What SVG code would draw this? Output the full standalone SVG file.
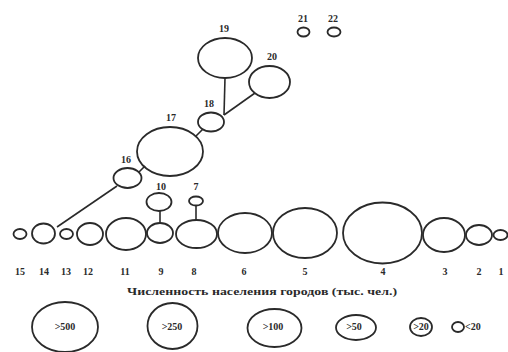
<svg xmlns="http://www.w3.org/2000/svg" width="508" height="352" viewBox="0 0 508 352">
<style>
.c{fill:none;stroke:#2a2a2a;stroke-width:1.8}
.l{stroke:#2a2a2a;stroke-width:1.6;fill:none}
.t{font-family:"Liberation Serif",serif;font-weight:bold;font-size:10px;fill:#2a2a2a;text-anchor:middle}
.s{font-family:"Liberation Serif",serif;font-weight:bold;font-size:10px;fill:#2a2a2a;text-anchor:middle}
.cap{font-family:"Liberation Serif",serif;font-weight:bold;font-size:10px;fill:#2a2a2a;text-anchor:middle}
</style>
<rect width="508" height="352" fill="#fff"/>
<g id="connectors">
<line class="l" x1="57" y1="227" x2="117" y2="186"/>
<line class="l" x1="139" y1="172" x2="145" y2="166"/>
<line class="l" x1="196" y1="136" x2="203" y2="129"/>
<line class="l" x1="225" y1="78" x2="224" y2="115"/>
<line class="l" x1="255" y1="93" x2="224" y2="115"/>
<line class="l" x1="160" y1="211" x2="160" y2="223"/>
<line class="l" x1="196" y1="205.5" x2="196" y2="220"/>
</g>
<g id="n1"><ellipse class="c" cx="500.5" cy="235" rx="7" ry="5"/><text class="t" x="501" y="275">1</text></g>
<g id="n2"><ellipse class="c" cx="479" cy="235" rx="13" ry="10"/><text class="t" x="479" y="275">2</text></g>
<g id="n3"><ellipse class="c" cx="444" cy="235" rx="21" ry="17"/><text class="t" x="445" y="275">3</text></g>
<g id="n4"><ellipse class="c" cx="382.5" cy="233" rx="39.5" ry="30.5"/><text class="t" x="383" y="275">4</text></g>
<g id="n5"><ellipse class="c" cx="305" cy="233" rx="32" ry="25"/><text class="t" x="305" y="275">5</text></g>
<g id="n6"><ellipse class="c" cx="245" cy="233" rx="27" ry="20"/><text class="t" x="244" y="275">6</text></g>
<g id="n7"><ellipse class="c" cx="196" cy="201" rx="7" ry="4.5"/><text class="t" x="196" y="190">7</text></g>
<g id="n8"><ellipse class="c" cx="196.5" cy="234" rx="20.5" ry="14"/><text class="t" x="194" y="275">8</text></g>
<g id="n9"><ellipse class="c" cx="160" cy="233" rx="13" ry="10"/><text class="t" x="161" y="275">9</text></g>
<g id="n10"><ellipse class="c" cx="159" cy="202" rx="12.5" ry="9"/><text class="t" x="161" y="190">10</text></g>
<g id="n11"><ellipse class="c" cx="126" cy="234" rx="20" ry="16"/><text class="t" x="125" y="275">11</text></g>
<g id="n12"><ellipse class="c" cx="90" cy="234" rx="13" ry="11"/><text class="t" x="88" y="275">12</text></g>
<g id="n13"><ellipse class="c" cx="66.5" cy="234" rx="6.5" ry="5"/><text class="t" x="66" y="275">13</text></g>
<g id="n14"><ellipse class="c" cx="43.5" cy="233.5" rx="11.5" ry="10"/><text class="t" x="44" y="275">14</text></g>
<g id="n15"><ellipse class="c" cx="20" cy="234" rx="6.5" ry="5"/><text class="t" x="20" y="275">15</text></g>
<g id="n16"><ellipse class="c" cx="127.5" cy="178" rx="14" ry="10"/><text class="t" x="126" y="163">16</text></g>
<g id="n17"><ellipse class="c" cx="170" cy="151.5" rx="33" ry="24.5"/><text class="t" x="171" y="121">17</text></g>
<g id="n18"><ellipse class="c" cx="211" cy="122" rx="13" ry="9.5"/><text class="t" x="209" y="107">18</text></g>
<g id="n19"><ellipse class="c" cx="225" cy="58" rx="27" ry="20"/><text class="t" x="224" y="32">19</text></g>
<g id="n20"><ellipse class="c" cx="269.5" cy="82" rx="20.5" ry="16"/><text class="t" x="272" y="60">20</text></g>
<g id="n21"><ellipse class="c" cx="303.5" cy="32" rx="6" ry="4.5"/><text class="t" x="303" y="22">21</text></g>
<g id="n22"><ellipse class="c" cx="334" cy="32" rx="6.5" ry="4.5"/><text class="t" x="333" y="22">22</text></g>
<text class="cap" x="262" y="295" textLength="270" lengthAdjust="spacingAndGlyphs">Численность населения городов (тыс. чел.)</text>
<g id="legend">
<ellipse class="c" cx="65" cy="327" rx="33" ry="25"/><text class="s" x="65" y="330">&gt;500</text>
<ellipse class="c" cx="172.5" cy="326" rx="25" ry="23"/><text class="s" x="172" y="330">&gt;250</text>
<ellipse class="c" cx="274.5" cy="328" rx="27" ry="19"/><text class="s" x="273" y="330">&gt;100</text>
<ellipse class="c" cx="356" cy="327.5" rx="20" ry="12.5"/><text class="s" x="354" y="330">&gt;50</text>
<ellipse class="c" cx="421" cy="327" rx="11" ry="9"/><text class="s" x="421" y="330">&gt;20</text>
<ellipse class="c" cx="458" cy="327" rx="6" ry="5"/><text class="s" x="465" y="330" style="text-anchor:start">&lt;20</text>
</g>
</svg>
